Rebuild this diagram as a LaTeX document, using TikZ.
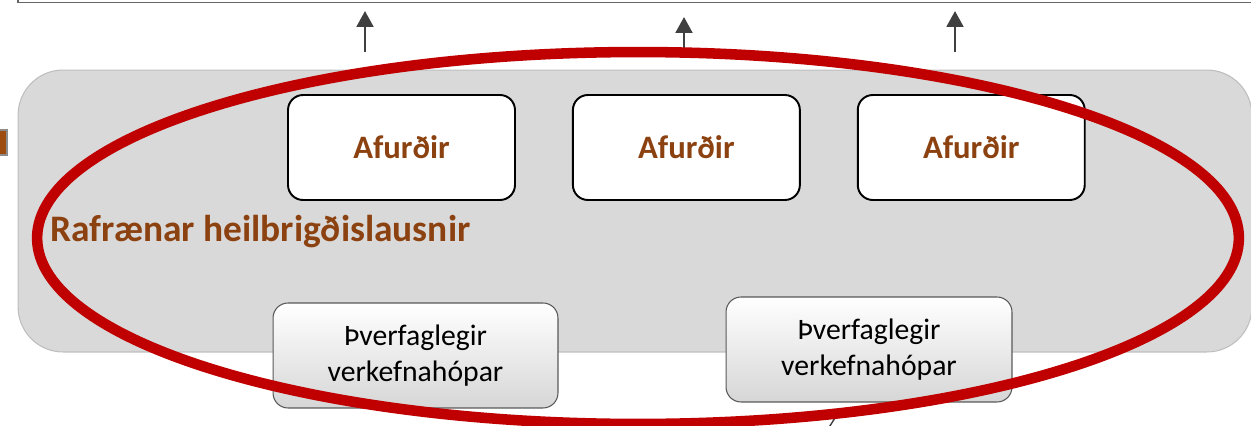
\documentclass[tikz,border=0pt]{standalone}
\usepackage{fontspec}
\setmainfont{Carlito}
\usepackage{tikz}
\usetikzlibrary{arrows.meta}
\usetikzlibrary{positioning}

\definecolor{panelgray}{RGB}{217,217,217}
\definecolor{paneledge}{RGB}{190,190,190}
\definecolor{brownish}{RGB}{140,66,16}
\definecolor{ringred}{RGB}{192,0,0}
\definecolor{arrowgray}{RGB}{64,64,64}

\begin{document}
\begin{tikzpicture}[x=0.02cm,y=-0.02cm,
    panel/.style={draw=paneledge,fill=panelgray,rounded corners=0.9cm,line width=0.6pt,
      minimum width=24.68cm,minimum height=5.64cm},
    product/.style={draw=black,fill=white,rounded corners=0.3cm,line width=1.1pt,
      minimum width=4.54cm,minimum height=2.1cm,text=brownish,font=\fontsize{18.6}{22}\selectfont\bfseries},
    team/.style={draw=black!65,top color=white,bottom color=black!16,rounded corners=0.3cm,line width=0.6pt,
      minimum width=5.7cm,minimum height=2.1cm,align=center,font=\fontsize{16.9}{20.3}\selectfont},
    uparrow/.style={draw=arrowgray,line width=1.4pt,-{Triangle[width=9.5pt,length=9pt]}}]

  \clip (0,0) rectangle (1251,426);

  \draw [draw=black!60,line width=0.9pt] (18,-20) -- (18,2.5) -- (1270,2.5);
  \draw [draw=black!45,fill=brownish!85!orange,line width=0.8pt] (-20,130) rectangle (7,155);

  \node [panel] (P) at (635,211) {};

  \node [product] (A1) at (401.5,147.5) {Afurðir};
  \node [product,right=1.12cm of A1] (A2) {Afurðir};
  \node [product,right=1.12cm of A2] (A3) {Afurðir};

  \node [anchor=west,text=brownish,font=\fontsize{21.3}{25}\selectfont\bfseries,inner sep=0pt]
    (title) at (50,232) {Rafrænar heilbrigðislausnir};

  \node [team] (T1) at (415.5,355.5) {Þverfaglegir\\verkefnahópar};
  \node [team,minimum width=5.72cm] (T2) at (869,349.5) {Þverfaglegir\\verkefnahópar};

  \coordinate (up1base) at (365,52);  \coordinate (up1tip) at (365,11);
  \coordinate (up2base) at (684,58);  \coordinate (up2tip) at (684,17);
  \coordinate (up3base) at (955,52);  \coordinate (up3tip) at (955,11);
  \draw [uparrow] (up1base) -- (up1tip);
  \draw [uparrow] (up2base) -- (up2tip);
  \draw [uparrow] (up3base) -- (up3tip);

  \coordinate (stub1) at (835,418);
  \coordinate (stub2) at (826,432);
  \draw [draw=arrowgray,line width=0.8pt] (stub1) -- (stub2);

  \draw [draw=ringred,line width=6pt] (638,238) ellipse [x radius=12.02cm,y radius=3.72cm];

\end{tikzpicture}
\end{document}
